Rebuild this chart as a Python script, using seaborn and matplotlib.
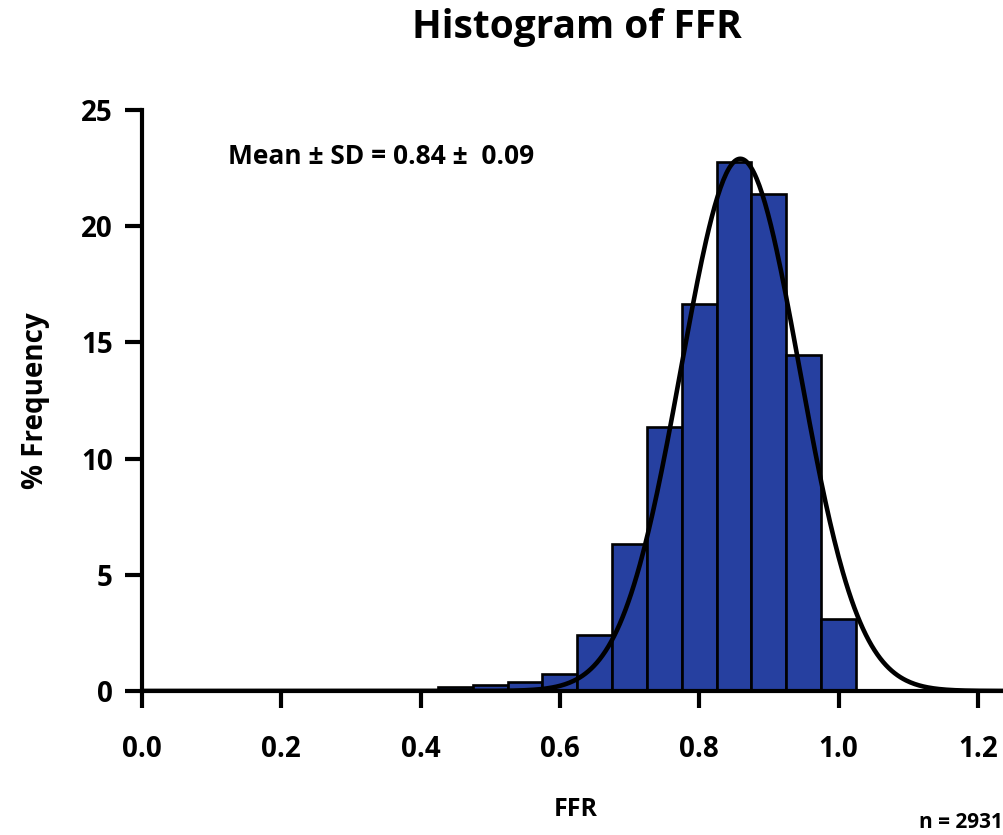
import numpy as np
import pandas as pd
import matplotlib
matplotlib.use("Agg")
import matplotlib.pyplot as plt
import seaborn as sns

# ---- data ----
bin_centers = [0.45, 0.50, 0.55, 0.60, 0.65, 0.70, 0.75, 0.80, 0.85, 0.90, 0.95, 1.00]
pct_frequency = [0.15, 0.25, 0.40, 0.75, 2.41, 6.33, 11.36, 16.65, 22.76, 21.40, 14.46, 3.10]
bin_width = 0.05
# Gaussian fit shown on the chart
fit_mean = 0.859
fit_sd = 0.085
fit_peak = 22.9
x_ticks = [0.0, 0.2, 0.4, 0.6, 0.8, 1.0, 1.2]
x_tick_labels = ["0.0", "0.2", "0.4", "0.6", "0.8", "1.0", "1.2"]
y_ticks = [0, 5, 10, 15, 20, 25]
title = "Histogram of FFR"
x_label = "FFR"
y_label = "% Frequency"
stats_text = "Mean \u00b1 SD = 0.84 \u00b1  0.09"
n_text = "n = 2931"

sns.set_style("ticks")
plt.rcParams["font.family"] = ["Open Sans", "DejaVu Sans"]
plt.rcParams["font.weight"] = "bold"
for key in ["text.color", "axes.edgecolor", "axes.labelcolor",
            "xtick.color", "ytick.color"]:
    plt.rcParams[key] = "black"

fig = plt.figure(figsize=(10.04, 8.35), dpi=100)
ax = fig.add_axes([0.1414, 0.1725, 0.8586, 0.6958])

df = pd.DataFrame({"x": bin_centers, "w": pct_frequency})
lo = bin_centers[0] - bin_width / 2
hi = bin_centers[-1] + bin_width / 2
sns.histplot(data=df, x="x", weights="w", binwidth=bin_width, binrange=(lo, hi),
             ax=ax, color="#2640A0", alpha=1.0, edgecolor="black",
             linewidth=1.9, zorder=2)

xmax = 1.2376
xs = np.linspace(0.0, xmax, 600)
curve = pd.DataFrame({"x": xs,
                      "y": fit_peak * np.exp(-0.5 * ((xs - fit_mean) / fit_sd) ** 2)})
sns.lineplot(data=curve, x="x", y="y", ax=ax, color="black", linewidth=3.3,
             zorder=3)

ax.set_xlim(0, xmax)
ax.set_ylim(0, 25)
ax.set_xticks(x_ticks)
ax.set_xticklabels(x_tick_labels)
ax.set_yticks(y_ticks)
sns.despine(ax=ax)
for s in ["left", "bottom"]:
    ax.spines[s].set_linewidth(3.0)
    ax.spines[s].set_zorder(4)
ax.tick_params(axis="both", direction="out", length=12, width=3.0,
               labelsize=20)
ax.tick_params(axis="x", pad=20)
ax.tick_params(axis="y", pad=9)
for lab in ax.get_xticklabels() + ax.get_yticklabels():
    lab.set_fontweight("bold")

ax.set_xlabel(x_label, fontsize=18, fontweight="bold", va="baseline")
ax.xaxis.set_label_coords(0.503, -0.2155)
ax.set_ylabel(y_label, fontsize=20, fontweight="bold", va="center")
ax.yaxis.set_label_coords(-0.1235, 0.5)

ax.text(0.123, 22.66, stats_text, fontsize=19, fontweight="bold",
        ha="left", va="baseline")

fig.text(0.575, 0.9545, title, fontsize=28, fontweight="bold",
         ha="center", va="baseline")
fig.text(0.999, 0.008, n_text, fontsize=15, fontweight="bold",
         ha="right", va="baseline")

fig.savefig("out.png", dpi=100)
